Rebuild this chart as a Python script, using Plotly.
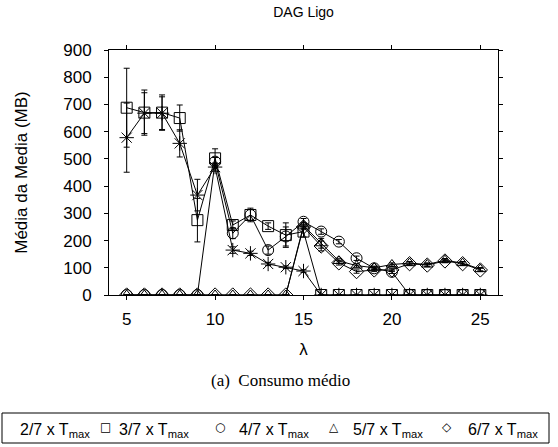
import plotly.graph_objects as go

x_vals = list(range(5, 26))

# series values (Média da Media, MB)
s27 = [578, 668, 668, 557, 367, 470, 165, 153, 114, 102, 88, 0, 0, 0, 0, 0, 0, 0, 0, 0, 0]
e27 = [127, 75, 60, 50, 58, 15, 12, 8, 6, 5, 5, 0, 0, 0, 0, 0, 0, 0, 0, 0, 0]
s37 = [688, 670, 670, 650, 275, 502, 257, 294, 253, 220, 233, 0, 0, 0, 0, 0, 0, 0, 0, 0, 0]
e37 = [145, 83, 65, 48, 80, 35, 15, 25, 12, 45, 20, 0, 0, 0, 0, 0, 0, 0, 0, 0, 0]
s47 = [0, 0, 0, 0, 0, 490, 227, 294, 165, 215, 269, 233, 196, 135, 98, 85, 0, 0, 0, 0, 0]
e47 = [0, 0, 0, 0, 0, 15, 20, 20, 15, 35, 12, 10, 8, 8, 6, 6, 0, 0, 0, 0, 0]
s57 = [0, 0, 0, 0, 0, 0, 0, 0, 0, 0, 255, 190, 125, 108, 100, 112, 117, 112, 128, 117, 95]
e57 = [0, 0, 0, 0, 0, 0, 0, 0, 0, 0, 10, 18, 8, 6, 6, 6, 6, 6, 6, 6, 6]
s67 = [0, 0, 0, 0, 0, 0, 0, 0, 0, 0, 250, 180, 118, 86, 92, 92, 115, 110, 125, 115, 92]
e67 = [0, 0, 0, 0, 0, 0, 0, 0, 0, 0, 10, 18, 8, 6, 6, 6, 6, 6, 6, 6, 6]

names = ["2/7 x T<sub>max</sub>", "3/7 x T<sub>max</sub>", "4/7 x T<sub>max</sub>",
         "5/7 x T<sub>max</sub>", "6/7 x T<sub>max</sub>"]
legend_glyphs = ["", "□", "○", "△", "◇"]
series = [s27, s37, s47, s57, s67]
errors = [e27, e37, e47, e57, e67]
symbols = ["asterisk-open", "square-open", "circle-open", "triangle-up-open", "diamond-open"]
sizes = [12, 11, 11, 10, 11]

fig = go.Figure()
for nm, ys, es, sym, sz in zip(names, series, errors, symbols, sizes):
    fig.add_trace(go.Scatter(
        x=x_vals, y=ys, name=nm, mode="lines+markers",
        line=dict(color="black", width=1),
        marker=dict(symbol=sym, size=sz, color="black", line=dict(color="black", width=1)),
        error_y=dict(type="data", array=es, visible=True, color="black", thickness=1, width=3),
        showlegend=False,
    ))

font = "Liberation Sans, Arial, sans-serif"
L, T, W, H = 109, 50, 389, 245
fig.update_layout(
    width=558, height=447,
    margin=dict(l=L, r=558 - L - W, t=T, b=447 - T - H),
    paper_bgcolor="white", plot_bgcolor="white",
    font=dict(family=font, size=17, color="black"),
    title=dict(text="DAG Ligo", x=0.544, xanchor="center", y=0.972, yanchor="middle",
               font=dict(size=14, family=font)),
    xaxis=dict(range=[4, 26], tickvals=[5, 10, 15, 20, 25], ticks="outside", ticklen=4,
               tickcolor="black", showline=True, linecolor="black", linewidth=1, mirror="ticks",
               showgrid=False, zeroline=False, ticklabelstandoff=5,
               tickfont=dict(size=17, family=font),
               title=dict(text="λ", font=dict(size=17, family=font), standoff=14)),
    yaxis=dict(range=[0, 900], dtick=100, ticks="outside", ticklen=4,
               tickcolor="black", showline=True, linecolor="black", linewidth=1, mirror="ticks",
               showgrid=False, zeroline=False, ticklabelstandoff=9,
               tickfont=dict(size=17, family=font),
               title=dict(text="Média da Media (MB)", font=dict(size=17, family=font), standoff=31)),
)


def px_x(p):
    return (p - L) / W


def px_y(p):
    return (T + H - p) / H


fig.add_annotation(
    text="(a)  Consumo médio", xref="paper", yref="paper",
    x=px_x(280), y=px_y(380), xanchor="center", yanchor="middle", showarrow=False,
    font=dict(family="Liberation Serif, Times New Roman, serif", size=17, color="black"),
)

# legend box (key) below the caption
fig.add_shape(type="rect", xref="paper", yref="paper",
              x0=px_x(2), x1=px_x(549), y0=px_y(443), y1=px_y(413),
              line=dict(color="black", width=1), fillcolor="rgba(0,0,0,0)")

text_starts = [18, 117, 237, 351, 466]
glyph_centers = [None, 105, 220, 334, 447]
for nm, gl, tx, gx in zip(names, legend_glyphs, text_starts, glyph_centers):
    fig.add_annotation(text=nm, xref="paper", yref="paper", x=px_x(tx), y=px_y(430),
                       xanchor="left", yanchor="middle", showarrow=False,
                       font=dict(family=font, size=16, color="black"))
    if gl:
        fig.add_annotation(text=gl, xref="paper", yref="paper", x=px_x(gx), y=px_y(427),
                           xanchor="center", yanchor="middle", showarrow=False,
                           font=dict(family="DejaVu Sans, sans-serif", size=12, color="black"))

fig.write_html("out.html")
